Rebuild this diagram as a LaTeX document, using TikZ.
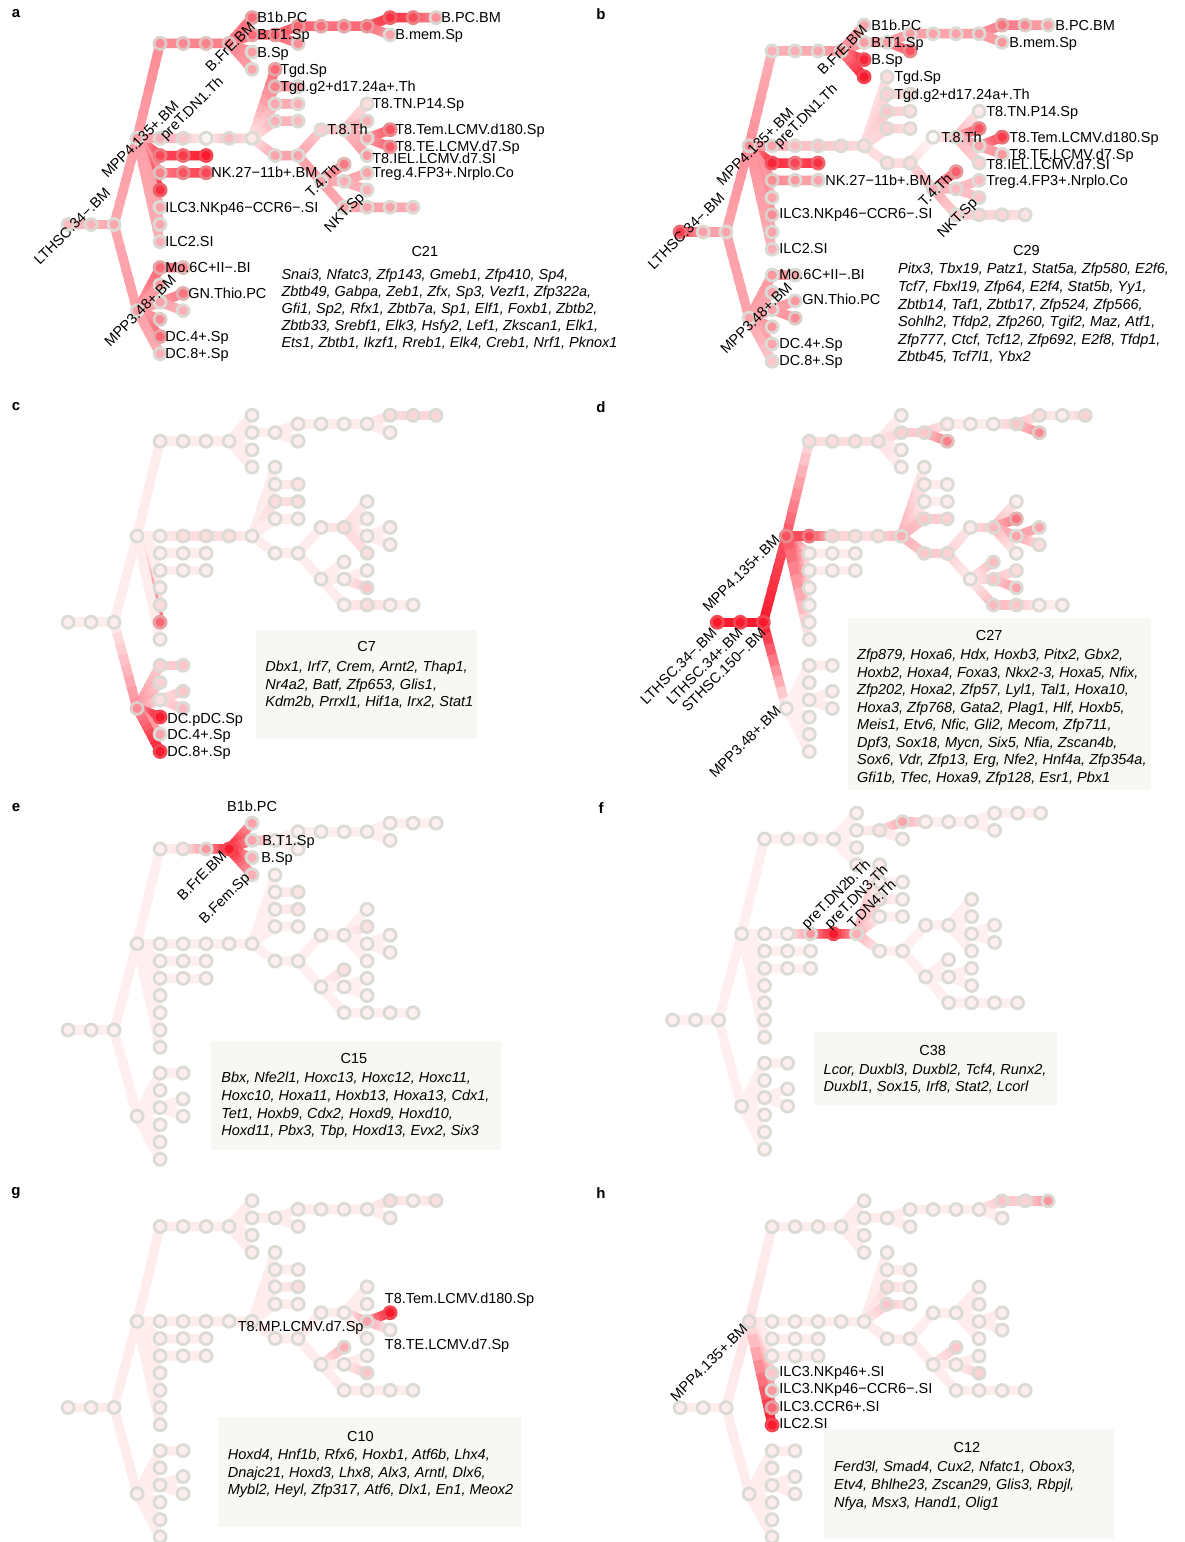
\documentclass[tikz,border=0pt]{standalone}
\usepackage{fontspec}
\setmainfont{Liberation Sans}
\usetikzlibrary{calc}

\definecolor{hot}{RGB}{250,25,45}
\definecolor{ringgrey}{RGB}{218,219,212}
\definecolor{boxgrey}{RGB}{247,247,244}

% ---- per-panel node intensities (0..100) ----
\newcommand\setbase[2]{\expandafter\xdef\csname tvbase:#1\endcsname{#2}}
\newcommand\setvals[2]{\foreach \nm/\vl in {#2}{\expandafter\xdef\csname tv:#1:\nm\endcsname{\vl}}}
\newcommand\getv[2]{\ifcsname tv:#1:#2\endcsname\csname tv:#1:#2\endcsname\else\csname tvbase:#1\endcsname\fi}

% ---- lineage tree: name/column/half-row ----
\def\treenodes{r0/0/0,r1/1/0,r2/2/0,m4/3/-10,m3/3/10,t1/4/-21,t2/5/-21,t3/6/-21,bfr/7/-21,b1b/8/-24,bt1/8/-22,bsp/8/-20,bfem/8/-18,bx/9/-22,by/10/-23,bz/10/-21,c11/11/-23,c12/12/-23,c13/13/-23,c14a/14/-24,bmem/14/-22,c15/15/-24,bpc/16/-24,p1/4/-10,p2/5/-10,p3/6/-10,p4/7/-10,p5/8/-10,k1/4/-8,k2/5/-8,k3/6/-8,k4/4/-6,k5/5/-6,k6/6/-6,i1/4/-4,i2/4/-2,i3/4/0,i4/4/2,g1/9/-18,g2/9/-16,g2b/10/-16,g3/9/-14,g3b/10/-14,g4/9/-12,g4b/10/-12,dp1/9/-8,dp2/10/-8,t8/11/-11,t8b/12/-11,t8tn/13/-14,t8x/13/-12,t8mp/13/-10,t8tem/14/-11,t8te/14/-9,t8iel/13/-8,t4/11/-5,t4a/12/-7,t4b/12/-5,treg/13/-6,t4c/13/-4,nkt/12/-2,nkt2/13/-2,nkt3/14/-2,nkt4/15/-2,mo/4/5,mo2/5/5,q7/4/7,gm/4/9,gn/5/8,gn2/5/10,pdc/4/11,dc4/4/13,dc8/4/15}
\def\treeedges{r0/r1,r1/r2,r2/m4,r2/m3,m4/t1,t1/t2,t2/t3,t3/bfr,bfr/b1b,bfr/bt1,bfr/bsp,bfr/bfem,bt1/bx,bx/by,bx/bz,by/c11,c11/c12,c12/c13,c13/c14a,c13/bmem,c14a/c15,c15/bpc,m4/k1,k1/k2,k2/k3,m4/k4,k4/k5,k5/k6,m4/i1,m4/i2,m4/i3,m4/i4,m4/p1,p1/p2,p2/p3,p3/p4,p4/p5,p5/g1,p5/g2,g2/g2b,p5/g3,g3/g3b,p5/g4,g4/g4b,p5/dp1,dp1/dp2,dp2/t8,t8/t8b,t8b/t8tn,t8b/t8x,t8b/t8mp,t8mp/t8tem,t8mp/t8te,t8b/t8iel,dp2/t4,t4/t4a,t4/t4b,t4b/treg,t4b/t4c,t4/nkt,nkt/nkt2,nkt2/nkt3,nkt3/nkt4,m3/mo,mo/mo2,m3/q7,m3/gm,gm/gn,gm/gn2,m3/pdc,m3/dc4,m3/dc8}

% edge shaded from parent intensity to child intensity
\newcommand\treeedge[2]{%
  \edef\va{\getv{\pn}{#1}}\edef\vb{\getv{\pn}{#2}}%
  \foreach \k in {0,...,7}{%
    \pgfmathsetmacro\cv{\va+(\vb-\va)*(\k+0.5)/8}%
    \pgfmathsetmacro\ta{\k/8}%
    \pgfmathsetmacro\tb{min(1,(\k+1)/8+0.03)}%
    \draw[edgeline,draw=hot!\cv!white] ($(\pn-#1)!\ta!(\pn-#2)$) -- ($(\pn-#1)!\tb!(\pn-#2)$);
  }}
% cell: tinted fill, grey ring that only reddens for strong cells
\newcommand\treenode[1]{%
  \edef\vv{\getv{\pn}{#1}}%
  \pgfmathsetmacro\rv{min(78,max(0,1.4*(\vv-45)))}%
  \fill[hot!\vv!white] (\pn-#1) circle (6pt);
  \draw[line width=2.8pt,draw=hot!\rv!ringgrey] (\pn-#1) circle (6pt);
}
\newcommand\drawtree[3]{%
  \def\pn{#1}%
  \foreach \nm/\cx/\ry in \treenodes{\coordinate (#1-\nm) at ({#2+23*\cx},{#3+8.62*(\ry)});}
  \foreach \pa/\ch in \treeedges{\treeedge{\pa}{\ch}}
  \foreach \nm/\cx/\ry in \treenodes{\treenode{\nm}}
}

% label helpers: right of node, centred & rotated, rotated ending / starting at node
\newcommand\rlab[5]{\node[lab,anchor=base west] (#1-l-#2) at ($(#1-#2)+(#3,#4)$) {#5};}
\newcommand\clab[5]{\node[lab,rotate=45] (#1-l-#2) at ($(#1-#2)+(#3,#4)$) {#5};}
\newcommand\elab[5]{\node[lab,rotate=45,anchor=east] (#1-l-#2) at ($(#1-#2)+(#3,#4)$) {#5};}
\newcommand\wlab[5]{\node[lab,rotate=45,anchor=west] (#1-l-#2) at ($(#1-#2)+(#3,#4)$) {#5};}

% ---- intensities ----
\setbase{a}{38}
\setvals{a}{r0/30,r1/32,r2/38,m4/42,m3/42,t1/50,t2/52,t3/55,bfr/55,b1b/65,bt1/65,bsp/42,bfem/40,bx/70,by/68,bz/50,c11/62,c12/62,c13/68,c14a/90,bmem/40,c15/78,bpc/48,p1/35,p2/25,p3/5,p4/30,p5/10,k1/80,k2/85,k3/100,k4/55,k5/75,k6/80,i1/90,i2/40,i3/38,i4/35,g1/65,g2/55,g2b/40,g3/38,g3b/35,g4/35,g4b/30,dp1/40,dp2/40,t8/22,t8b/28,t8tn/15,t8x/35,t8mp/42,t8tem/75,t8te/70,t8iel/45,t4/40,t4a/58,t4b/35,treg/40,t4c/35,nkt/38,nkt2/40,nkt3/40,nkt4/35,mo/65,mo2/55,q7/45,gm/40,gn/60,gn2/35,pdc/50,dc4/65,dc8/35}
\setbase{b}{38}
\setvals{b}{r0/85,r1/40,r2/40,m4/48,m3/40,t1/35,t2/35,t3/38,bfr/50,b1b/40,bt1/42,bsp/95,bfem/100,bx/42,by/42,bz/75,c11/40,c12/40,c13/42,c14a/60,bmem/45,c15/50,bpc/40,p1/40,p2/30,p3/25,p4/20,p5/15,k1/95,k2/80,k3/90,k4/50,k5/45,k6/40,i1/40,i2/50,i3/40,i4/35,g1/15,g2/20,g2b/15,g3/25,g3b/15,g4/20,g4b/15,dp1/15,dp2/15,t8/3,t8b/30,t8tn/10,t8x/75,t8mp/40,t8tem/85,t8te/45,t8iel/20,t4/35,t4a/70,t4b/30,treg/30,t4c/25,nkt/22,nkt2/20,nkt3/18,nkt4/12,mo/45,mo2/40,q7/40,gm/40,gn/45,gn2/50,pdc/45,dc4/40,dc8/25}
\setbase{c}{8}
\setvals{c}{m3/50,pdc/100,dc4/40,dc8/100,i3/65,i2/15,mo/20,mo2/25,q7/20,gm/15,gn/25,gn2/30,c14a/15,c15/18,bpc/18,p2/15,p3/15,p4/15,g3/15,g3b/15,g2b/12,t8b/15,t8iel/15,t4c/25,nkt2/15}
\setbase{d}{8}
\setvals{d}{r0/100,r1/100,r2/100,m4/75,m3/6,p1/80,p2/20,p3/15,p4/15,p5/35,t1/15,t2/15,t3/15,bfr/12,bt1/20,bx/25,bz/55,by/10,c13/25,c14a/15,bmem/50,bpc/20,g2/10,g4/25,g4b/20,dp1/25,dp2/20,t8/10,t8b/30,t8x/60,t8mp/40,t8tem/40,t8te/15,t4a/30,t4b/25,treg/15,t4c/40,nkt/30,nkt2/25}
\setbase{e}{7}
\setvals{e}{bfr/100,t3/45,t2/12,b1b/40,bt1/40,bsp/35,bfem/35,g2b/12,g3b/12,t8x/14,t4a/14}
\setbase{f}{7}
\setvals{f}{p4/100,p3/45,p5/35,by/40,bx/12,g3/12}
\setbase{g}{8}
\setvals{g}{t8tem/100,t8mp/40,t4a/35,t4c/25,c14a/15,g3b/15,bpc/14}
\setbase{h}{8}
\setvals{h}{i4/100,i3/65,i2/45,i1/25,m4/12,bpc/45,c15/20,c14a/25,g4/25,g3/15,t4a/25,t4c/20}

\begin{document}
\begin{tikzpicture}[x=1pt,y=-1pt,
  edgeline/.style={line width=9.5pt,line cap=butt},
  lab/.style={font=\fontsize{14.5}{17}\selectfont,inner sep=0pt},
  gt/.style={font=\fontsize{14.5}{17}\selectfont\itshape,inner sep=0pt,anchor=base west},
  ttl/.style={font=\fontsize{14.5}{17}\selectfont,inner sep=0pt,anchor=base},
  plab/.style={font=\fontsize{15}{17}\selectfont\bfseries,inner sep=0pt}]

\fill[white] (0,0) rectangle (1184,1542);
\useasboundingbox (0,0) rectangle (1184,1542);

% gene-list panels
\fill[boxgrey] (255.6,630) rectangle (476.5,739.3);
\fill[boxgrey] (847.7,617.7) rectangle (1150.5,790);
\fill[boxgrey] (211.3,1040.7) rectangle (501.3,1150);
\fill[boxgrey] (814.2,1032.3) rectangle (1057,1105);
\fill[boxgrey] (218.1,1417.3) rectangle (520.5,1526.7);
\fill[boxgrey] (823.5,1429.3) rectangle (1114,1539.3);

% trees
\drawtree{a}{68.1}{224.5}
\drawtree{b}{680.1}{232}
\drawtree{c}{68.1}{622.2}
\drawtree{d}{717.3}{622.3}
\drawtree{e}{68.1}{1030}
\drawtree{f}{672.6}{1020}
\drawtree{g}{68.1}{1407.5}
\drawtree{h}{680.1}{1407.7}

% panel letters
\node[plab] (pa) at (16,14) {a};
\node[plab] (pb) at (601,14) {b};
\node[plab] (pc) at (16,407) {c};
\node[plab] (pd) at (601,407) {d};
\node[plab] (pe) at (16,808) {e};
\node[plab] (pf) at (601,808) {f};
\node[plab] (pg) at (16,1193) {g};
\node[plab] (ph) at (601,1193) {h};

% ---- panel a labels ----
\rlab{a}{b1b}{5}{5}{B1b.PC}
\rlab{a}{bt1}{5}{5}{B.T1.Sp}
\rlab{a}{bsp}{5}{5}{B.Sp}
\rlab{a}{bpc}{5}{5}{B.PC.BM}
\rlab{a}{bmem}{5}{5}{B.mem.Sp}
\rlab{a}{g1}{5}{5}{Tgd.Sp}
\rlab{a}{g2}{5}{5}{Tgd.g2+d17.24a+.Th}
\rlab{a}{t8tn}{5}{5}{T8.TN.P14.Sp}
\rlab{a}{t8}{6}{5}{T.8.Th}
\rlab{a}{t8tem}{5}{5}{T8.Tem.LCMV.d180.Sp}
\rlab{a}{t8te}{5}{5}{T8.TE.LCMV.d7.Sp}
\rlab{a}{t8iel}{5}{7.5}{T8.IEL.LCMV.d7.SI}
\rlab{a}{treg}{5}{5}{Treg.4.FP3+.Nrplo.Co}
\rlab{a}{k6}{5}{5}{NK.27−11b+.BM}
\rlab{a}{i2}{5}{5}{ILC3.NKp46−CCR6−.SI}
\rlab{a}{i4}{5}{5}{ILC2.SI}
\rlab{a}{mo}{5}{5}{Mo.6C+II−.BI}
\rlab{a}{gn}{5}{5}{GN.Thio.PC}
\rlab{a}{dc4}{5}{5}{DC.4+.Sp}
\rlab{a}{dc8}{5}{5}{DC.8+.Sp}
\clab{a}{r0}{4}{2}{LTHSC.34−.BM}
\clab{a}{m4}{3}{1}{MPP4.135+.BM}
\clab{a}{bfr}{1}{3}{B.FrE.BM}
\clab{a}{m3}{3}{0}{MPP3.48+.BM}
\clab{a}{t4}{1}{-1}{T.4.Th}
\clab{a}{nkt}{1}{6}{NKT.Sp}
\wlab{a}{p1}{3}{0}{preT.DN1.Th}
\node[ttl] (a-ttl) at (424.8,256.7) {C21};
\node[gt] (a-g1l) at (281.3,279.5) {Snai3, Nfatc3, Zfp143, Gmeb1, Zfp410, Sp4,};
\node[gt] (a-g2l) at (281.3,296.6) {Zbtb49, Gabpa, Zeb1, Zfx, Sp3, Vezf1, Zfp322a,};
\node[gt] (a-g3l) at (281.3,313.7) {Gfi1, Sp2, Rfx1, Zbtb7a, Sp1, Elf1, Foxb1, Zbtb2,};
\node[gt] (a-g4l) at (281.3,330.8) {Zbtb33, Srebf1, Elk3, Hsfy2, Lef1, Zkscan1, Elk1,};
\node[gt] (a-g5l) at (281.3,347.9) {Ets1, Zbtb1, Ikzf1, Rreb1, Elk4, Creb1, Nrf1, Pknox1};

% ---- panel b labels ----
\rlab{b}{b1b}{7}{5}{B1b.PC}
\rlab{b}{bt1}{7}{5}{B.T1.Sp}
\rlab{b}{bsp}{7}{5}{B.Sp}
\rlab{b}{bpc}{7}{5}{B.PC.BM}
\rlab{b}{bmem}{7}{5}{B.mem.Sp}
\rlab{b}{g1}{7}{5}{Tgd.Sp}
\rlab{b}{g2}{7}{5}{Tgd.g2+d17.24a+.Th}
\rlab{b}{t8tn}{7}{5}{T8.TN.P14.Sp}
\rlab{b}{t8}{8}{5}{T.8.Th}
\rlab{b}{t8tem}{7}{5}{T8.Tem.LCMV.d180.Sp}
\rlab{b}{t8te}{7}{5}{T8.TE.LCMV.d7.Sp}
\rlab{b}{t8iel}{7}{6}{T8.IEL.LCMV.d7.SI}
\rlab{b}{treg}{7}{5}{Treg.4.FP3+.Nrplo.Co}
\rlab{b}{k6}{7}{5}{NK.27−11b+.BM}
\rlab{b}{i2}{7}{4}{ILC3.NKp46−CCR6−.SI}
\rlab{b}{i4}{7}{4}{ILC2.SI}
\rlab{b}{mo}{7}{4}{Mo.6C+II−.BI}
\rlab{b}{gn}{7}{4}{GN.Thio.PC}
\rlab{b}{dc4}{7}{4}{DC.4+.Sp}
\rlab{b}{dc8}{7}{4}{DC.8+.Sp}
\clab{b}{r0}{6}{-1}{LTHSC.34−.BM}
\clab{b}{m4}{6}{1}{MPP4.135+.BM}
\clab{b}{bfr}{1}{-1}{B.FrE.BM}
\clab{b}{m3}{7}{0}{MPP3.48+.BM}
\clab{b}{t4}{2}{1}{T.4.Th}
\clab{b}{nkt}{2}{4}{NKT.Sp}
\wlab{b}{p1}{5}{0}{preT.DN1.Th}
\node[ttl] (b-ttl) at (1026.4,255) {C29};
\node[gt] (b-g1l) at (898,273.8) {Pitx3, Tbx19, Patz1, Stat5a, Zfp580, E2f6,};
\node[gt] (b-g2l) at (898,291.4) {Tcf7, Fbxl19, Zfp64, E2f4, Stat5b, Yy1,};
\node[gt] (b-g3l) at (898,309.0) {Zbtb14, Taf1, Zbtb17, Zfp524, Zfp566,};
\node[gt] (b-g4l) at (898,326.6) {Sohlh2, Tfdp2, Zfp260, Tgif2, Maz, Atf1,};
\node[gt] (b-g5l) at (898,344.2) {Zfp777, Ctcf, Tcf12, Zfp692, E2f8, Tfdp1,};
\node[gt] (b-g6l) at (898,361.8) {Zbtb45, Tcf7l1, Ybx2};

% ---- panel c labels ----
\rlab{c}{pdc}{7}{6}{DC.pDC.Sp}
\rlab{c}{dc4}{7}{5}{DC.4+.Sp}
\rlab{c}{dc8}{7}{5}{DC.8+.Sp}
\node[ttl] (c-ttl) at (366.6,651.7) {C7};
\node[gt] (c-g1l) at (265.2,671.8) {Dbx1, Irf7, Crem, Arnt2, Thap1,};
\node[gt] (c-g2l) at (265.2,689.3) {Nr4a2, Batf, Zfp653, Glis1,};
\node[gt] (c-g3l) at (265.2,706.8) {Kdm2b, Prrxl1, Hif1a, Irx2, Stat1};

% ---- panel d labels ----
\elab{d}{m4}{-9}{1}{MPP4.135+.BM}
\elab{d}{r0}{-3}{8}{LTHSC.34−.BM}
\elab{d}{r1}{0}{8}{LTHSC.34+.BM}
\elab{d}{r2}{0}{8}{STHSC.150−.BM}
\elab{d}{m3}{-8}{0}{MPP3.48+.BM}
\node[ttl] (d-ttl) at (989.2,640.7) {C27};
\node[gt] (d-g1l) at (857,659.5) {Zfp879, Hoxa6, Hdx, Hoxb3, Pitx2, Gbx2,};
\node[gt] (d-g2l) at (857,677) {Hoxb2, Hoxa4, Foxa3, Nkx2-3, Hoxa5, Nfix,};
\node[gt] (d-g3l) at (857,694.5) {Zfp202, Hoxa2, Zfp57, Lyl1, Tal1, Hoxa10,};
\node[gt] (d-g4l) at (857,712) {Hoxa3, Zfp768, Gata2, Plag1, Hlf, Hoxb5,};
\node[gt] (d-g5l) at (857,729.5) {Meis1, Etv6, Nfic, Gli2, Mecom, Zfp711,};
\node[gt] (d-g6l) at (857,747) {Dpf3, Sox18, Mycn, Six5, Nfia, Zscan4b,};
\node[gt] (d-g7l) at (857,764.5) {Sox6, Vdr, Zfp13, Erg, Nfe2, Hnf4a, Zfp354a,};
\node[gt] (d-g8l) at (857,782) {Gfi1b, Tfec, Hoxa9, Zfp128, Esr1, Pbx1};

% ---- panel e labels ----
\node[lab,anchor=base] (e-l-b1b) at ($(e-b1b)+(0,-11.5)$) {B1b.PC};
\rlab{e}{bt1}{10}{5}{B.T1.Sp}
\rlab{e}{bsp}{9}{5}{B.Sp}
\elab{e}{bfr}{-5}{4}{B.FrE.BM}
\elab{e}{bfem}{-4}{1}{B.Fem.Sp}
\node[ttl] (e-ttl) at (354,1063.3) {C15};
\node[gt] (e-g1l) at (221.2,1082.8) {Bbx, Nfe2l1, Hoxc13, Hoxc12, Hoxc11,};
\node[gt] (e-g2l) at (221.2,1100.4) {Hoxc10, Hoxa11, Hoxb13, Hoxa13, Cdx1,};
\node[gt] (e-g3l) at (221.2,1118.0) {Tet1, Hoxb9, Cdx2, Hoxd9, Hoxd10,};
\node[gt] (e-g4l) at (221.2,1135.6) {Hoxd11, Pbx3, Tbp, Hoxd13, Evx2, Six3};

% ---- panel f labels ----
\wlab{f}{p3}{-6}{-7}{preT.DN2b.Th}
\wlab{f}{p4}{-6}{-7}{preT.DN3.Th}
\wlab{f}{p5}{-7}{-8}{T.DN4.Th}
\node[ttl] (f-ttl) at (932.6,1055.7) {C38};
\node[gt] (f-g1l) at (823.5,1074.5) {Lcor, Duxbl3, Duxbl2, Tcf4, Runx2,};
\node[gt] (f-g2l) at (823.5,1091.8) {Duxbl1, Sox15, Irf8, Stat2, Lcorl};

% ---- panel g labels ----
\rlab{g}{t8tem}{-5.4}{-9.4}{T8.Tem.LCMV.d180.Sp}
\node[lab,anchor=base east] (g-l-t8mp) at ($(g-t8mp)+(-3.4,10.4)$) {T8.MP.LCMV.d7.Sp};
\rlab{g}{t8te}{-5.4}{20}{T8.TE.LCMV.d7.Sp}
\node[ttl] (g-ttl) at (360.5,1441) {C10};
\node[gt] (g-g1l) at (227.7,1459.5) {Hoxd4, Hnf1b, Rfx6, Hoxb1, Atf6b, Lhx4,};
\node[gt] (g-g2l) at (227.7,1477) {Dnajc21, Hoxd3, Lhx8, Alx3, Arntl, Dlx6,};
\node[gt] (g-g3l) at (227.7,1494.5) {Mybl2, Heyl, Zfp317, Atf6, Dlx1, En1, Meox2};

% ---- panel h labels ----
\elab{h}{m4}{-4}{5}{MPP4.135+.BM}
\rlab{h}{i1}{7}{3.5}{ILC3.NKp46+.SI}
\rlab{h}{i2}{7}{3.5}{ILC3.NKp46−CCR6−.SI}
\rlab{h}{i3}{7}{3.5}{ILC3.CCR6+.SI}
\rlab{h}{i4}{7}{3.5}{ILC2.SI}
\node[ttl] (h-ttl) at (966.9,1452.7) {C12};
\node[gt] (h-g1l) at (833.9,1471.8) {Ferd3l, Smad4, Cux2, Nfatc1, Obox3,};
\node[gt] (h-g2l) at (833.9,1489.5) {Etv4, Bhlhe23, Zscan29, Glis3, Rbpjl,};
\node[gt] (h-g3l) at (833.9,1507.2) {Nfya, Msx3, Hand1, Olig1};

\end{tikzpicture}
\end{document}
